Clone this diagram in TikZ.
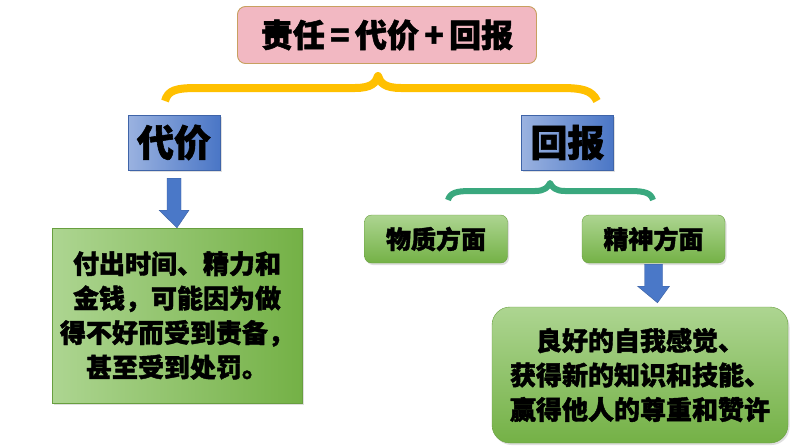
\documentclass[tikz,border=0pt]{standalone}
\usepackage{fontspec}
\setmainfont{Noto Sans CJK SC}[BoldFeatures={FakeBold=1.6}]
\usetikzlibrary{shadows,calc}
\definecolor{pinkfill}{HTML}{F2B8C2}
\definecolor{pinkborder}{HTML}{C8A060}
\definecolor{blueL}{HTML}{9AB2E0}
\definecolor{blueR}{HTML}{4A76C6}
\definecolor{greenL}{HTML}{ADD591}
\definecolor{greenR}{HTML}{74B146}
\definecolor{braceY}{HTML}{FFC000}
\definecolor{braceG}{HTML}{3AA87E}
\definecolor{arrowB}{HTML}{4A78C8}
\begin{document}
\begin{tikzpicture}[x=1pt,y=-1pt,
  softshadow/.style={drop shadow={opacity=0.25,shadow xshift=1.5pt,shadow yshift=-2pt}},
  pinkbox/.style={draw=pinkborder,line width=0.9pt,fill=pinkfill,rounded corners=8pt,
    minimum width=299pt,minimum height=57pt,inner sep=0pt,
    font=\fontsize{32}{36}\selectfont\bfseries},
  bluebox/.style={softshadow,left color=blueL,right color=blueR,draw=blueR!85!black,line width=0.4pt,
    minimum width=92pt,minimum height=55pt,inner sep=0pt,
    font=\fontsize{37}{42}\selectfont\bfseries},
  greenbox/.style={softshadow,top color=greenL,bottom color=greenR,draw=greenR!90!black,line width=0.4pt,
    rounded corners=7pt,minimum width=143pt,minimum height=48pt,inner sep=0pt,
    font=\fontsize{25}{30}\selectfont\bfseries},
  bigbox/.style={softshadow,left color=greenL,right color=greenR,draw=greenR!90!black,line width=0.4pt,
    inner sep=0pt,align=center,font=\fontsize{26}{34.5}\selectfont\bfseries},
  bracestyle/.style={line width=#1,line cap=butt,line join=round},
  blockarrow/.style={fill=arrowB,draw=arrowB!80!black,line width=0.4pt}
]
\useasboundingbox (0,0) rectangle (794,447);
\fill[white] (0,0) rectangle (794,447);

% nodes
\node[pinkbox] (top) at (387,35) {责任\,=\,代价\,+\,回报};
\node[bluebox] (dj) at (174,142.5) {代价};
\node[bluebox] (hb) at (567.5,142.5) {回报};
\node[greenbox] (wz) at (436,239) {物质方面};
\node[greenbox] (js) at (653.5,239) {精神方面};
\node[bigbox,minimum width=250pt,minimum height=175pt] (lb) at (177,315.5)
  {付出时间、精力和\\金钱，可能因为做\\得不好而受到责备，\\甚至受到处罚。};
\node[bigbox,rounded corners=18pt,top color=greenL,bottom color=greenR,
  minimum width=296pt,minimum height=136pt] (rb) at (640,375)
  {良好的自我感觉、\\获得新的知识和技能、\\赢得他人的尊重和赞许};

% yellow brace
\coordinate (yb1) at (165,101);
\coordinate (yb2) at (378,76);
\coordinate (yb3) at (597,101);
\draw[bracestyle=8pt,braceY] (yb1) .. controls (168,90) and (176,88) .. (198,88)
  -- (355,88) .. controls (371,88) and (376,83) .. (yb2)
  .. controls (380,83) and (385,88) .. (401,88)
  -- (560,88) .. controls (582,88) and (592,90) .. (yb3);

% green brace
\coordinate (gb1) at (448,200);
\coordinate (gb2) at (550,183);
\coordinate (gb3) at (653,200);
\draw[bracestyle=6pt,braceG] (gb1) .. controls (450,193) and (456,191) .. (470,191)
  -- (535,191) .. controls (545,191) and (548,187) .. (gb2)
  .. controls (552,187) and (555,191) .. (565,191)
  -- (630,191) .. controls (645,191) and (651,193) .. (gb3);

% block arrows
\path[blockarrow] ($(dj.south)+(-7,8)$) -- ($(dj.south)+(7,8)$) -- ($(dj.south)+(7,40)$)
  -- ($(dj.south)+(15,40)$) -- (lb.north) -- ($(dj.south)+(-15,40)$)
  -- ($(dj.south)+(-7,40)$) -- cycle;
\path[blockarrow] ($(js.south)+(-9,1)$) -- ($(js.south)+(9,1)$) -- ($(js.south)+(9,23)$)
  -- ($(js.south)+(16,23)$) -- ($(rb.north)+(17.5,-4)$) -- ($(js.south)+(-16,23)$)
  -- ($(js.south)+(-9,23)$) -- cycle;
\end{tikzpicture}
\end{document}
